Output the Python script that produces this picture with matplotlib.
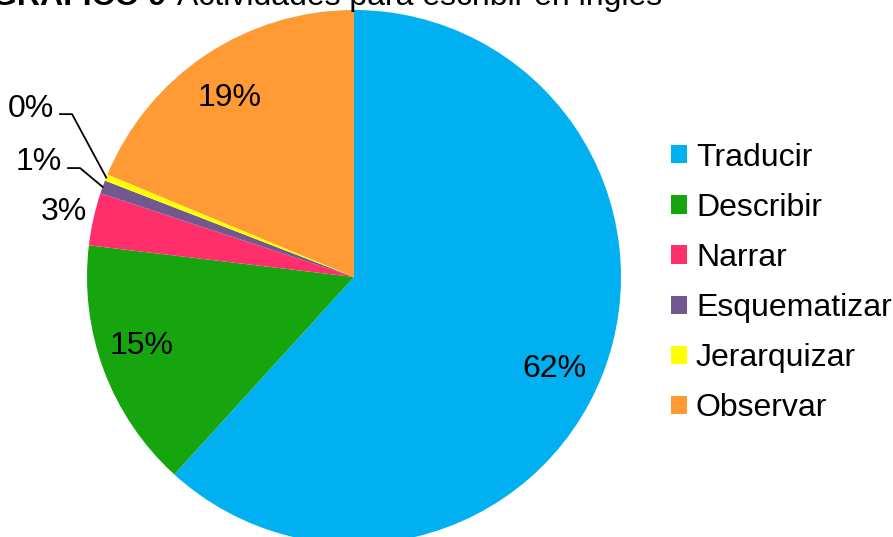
import matplotlib.pyplot as plt
import numpy as np

plt.rcParams['font.family'] = ['Liberation Sans', 'DejaVu Sans']

categories = ["Traducir", "Describir", "Narrar", "Esquematizar", "Jerarquizar", "Observar"]
counts = [155, 38, 8, 2, 1, 47]
colors = ["#00B0F0", "#16A50E", "#FF2F6B", "#71588F", "#FFFF00", "#FF9A35"]

W, H = 893, 537
FS = 23
fig = plt.figure(figsize=(W / 100, H / 100), dpi=100)

# pie centre (354, 277) px, radius 267 px
cx, cy, r = 354, 277, 267
ax = fig.add_axes([(cx - r) / W, (H - cy - r) / H, 2 * r / W, 2 * r / H])

wedges, texts, autotexts = ax.pie(counts, colors=colors, startangle=90, counterclock=False,
                                  autopct='%.0f%%', pctdistance=0.82, radius=1,
                                  wedgeprops=dict(linewidth=0),
                                  textprops=dict(fontsize=FS, color='black'))
ax.set_xlim(-1, 1)
ax.set_ylim(-1, 1)
ax.set_aspect('equal')

# label placement (data units of the unit pie), like excel's best fit
label_pos = [(0.751, -0.343), (-0.794, -0.257), (-1.088, 0.243),
             (-1.180, 0.431), (-1.210, 0.629), (-0.464, 0.672)]
for t, p in zip(autotexts, label_pos):
    t.set_position(p)

def mid_angle(w):
    return np.deg2rad((w.theta1 + w.theta2) / 2)

# leader lines for the tiny slices
leaders = [(3, (-1.071, -1.026), 0.408),
           (4, (-1.101, -1.056), 0.610)]
for i, (x0, x1), ys in leaders:
    a = mid_angle(wedges[i])
    ax.plot([x0, x1, np.cos(a)], [ys, ys, np.sin(a)], color='black', lw=1.3, clip_on=False)

ax.legend(wedges, categories, loc='center left', bbox_to_anchor=(671 / W, 1 - 283 / H),
          bbox_transform=fig.transFigure, frameon=False, fontsize=FS,
          handlelength=0.5, handleheight=0.5, handletextpad=0.28, labelspacing=0.63,
          borderpad=0, borderaxespad=0)

ty = 1 - 5 / H
fig.text(166 / W, ty, "GRÁFICO 9", fontsize=FS, fontweight='bold', ha='right', va='baseline')
fig.text(177 / W, ty, "Actividades para escribir en inglés", fontsize=FS, ha='left', va='baseline')

fig.savefig("out.png", dpi=100)
